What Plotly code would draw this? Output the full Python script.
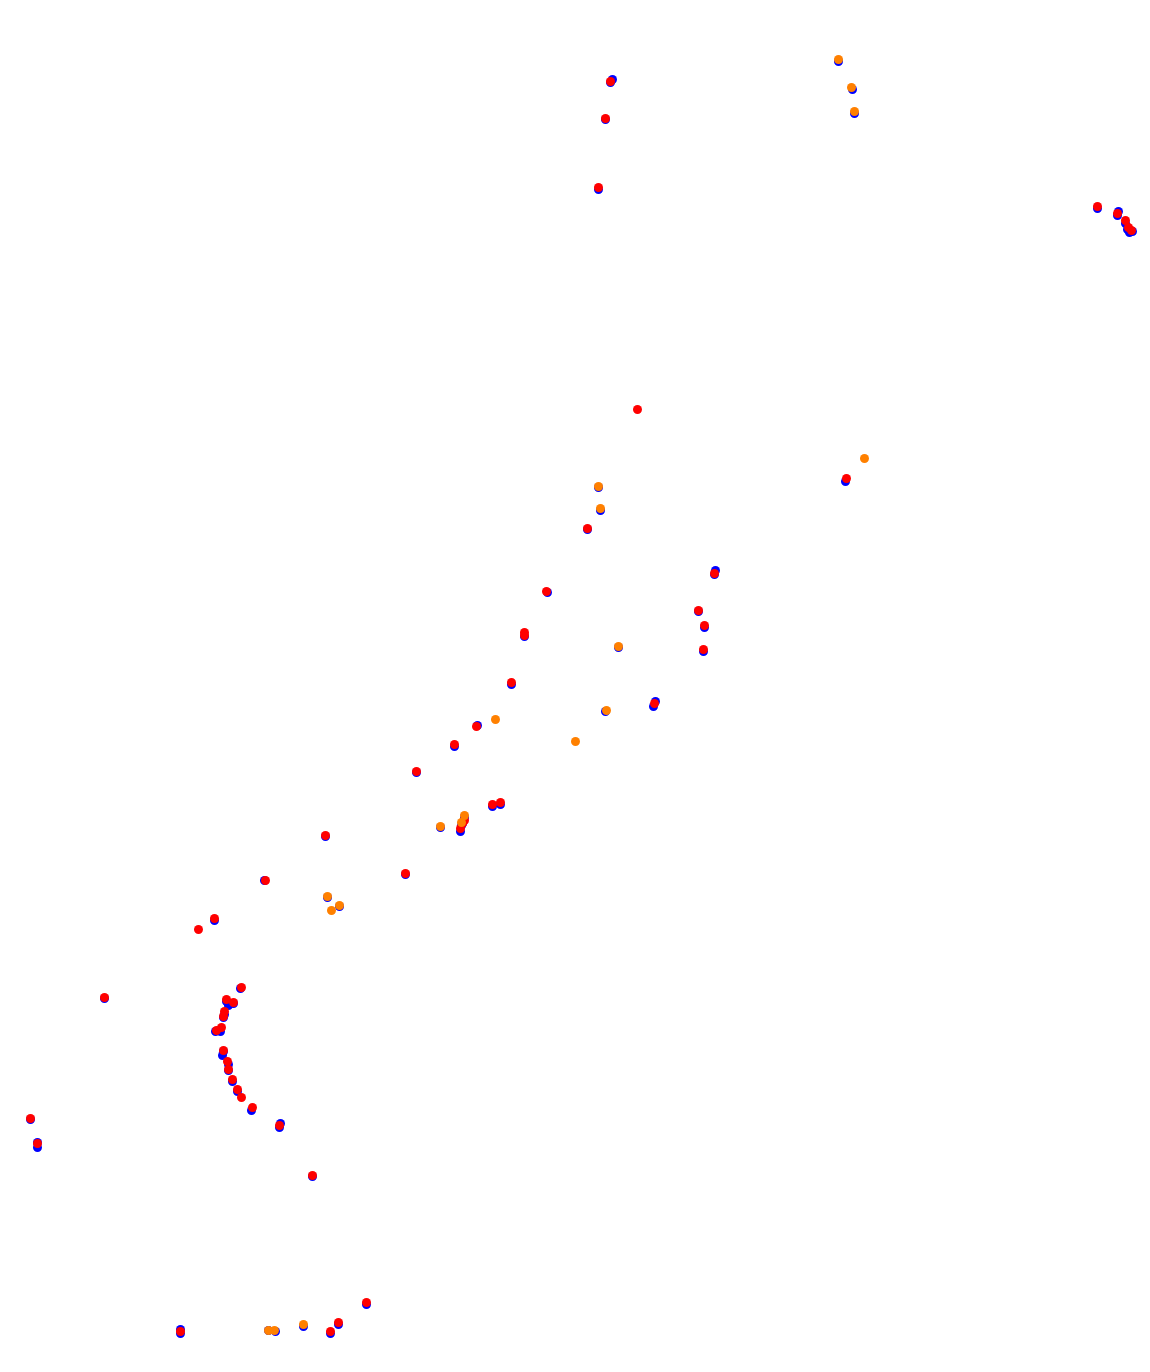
import plotly.graph_objects as go

blue_x = [610,612,605,598,1097,1117,1118,1125,1127,1129,1132,845,587,547,524,715,714,698,704,703,511,653,655,477,454,416,500,492,464,462,460,325,405,264,214,104,240,226,228,233,223,224,220,215,222,223,228,228,232,237,251,279,280,312,30,37,37,366,338,330,180,180,838,852,854,598,600,618,605,440,327,339,303,275,268,461]
blue_y = [83,80,120,190,209,216,212,224,230,233,232,482,530,593,637,571,575,612,628,652,685,707,702,726,747,773,805,807,818,824,832,837,875,881,921,999,989,1002,1006,1004,1018,1015,1032,1032,1056,1052,1065,1071,1082,1092,1111,1128,1124,1177,1120,1143,1148,1305,1325,1334,1334,1330,62,90,114,488,511,648,712,828,898,907,1327,1332,1331,826]

red_x = [610,605,598,1097,1117,1125,1128,1131,637,846,587,546,524,524,714,698,704,703,511,654,476,454,416,500,492,464,462,460,325,405,265,214,198,104,241,226,233,224,223,221,216,223,227,228,232,237,241,252,279,312,30,37,366,338,330,180]
red_y = [82,119,188,207,214,221,228,231,410,479,529,592,633,636,574,611,626,650,683,704,727,745,772,803,805,821,824,829,836,874,881,919,930,998,988,1000,1003,1012,1017,1028,1031,1051,1062,1070,1080,1090,1098,1108,1126,1176,1119,1144,1303,1323,1332,1332]

orange_x = [838,851,854,864,598,600,618,606,575,495,464,461,440,327,339,331,303,274,268]
orange_y = [60,88,112,459,487,509,647,711,742,720,816,823,827,897,906,911,1325,1331,1331]

fig = go.Figure()
for xs, ys, col, sz in [(blue_x, blue_y, "#0000ff", 9), (red_x, red_y, "#ff0000", 9), (orange_x, orange_y, "#ff8000", 9)]:
    fig.add_trace(go.Scatter(x=xs, y=ys, mode="markers", marker=dict(color=col, size=sz, line=dict(width=0)), showlegend=False, hoverinfo="skip", cliponaxis=False))
fig.update_layout(width=1134, height=1356, margin=dict(l=0, r=0, t=0, b=0), paper_bgcolor="white", plot_bgcolor="white", showlegend=False)
fig.update_xaxes(range=[7.5, 1141.5], visible=False)
fig.update_yaxes(range=[1364.5, 8.5], visible=False)
fig.write_html("out.html")
